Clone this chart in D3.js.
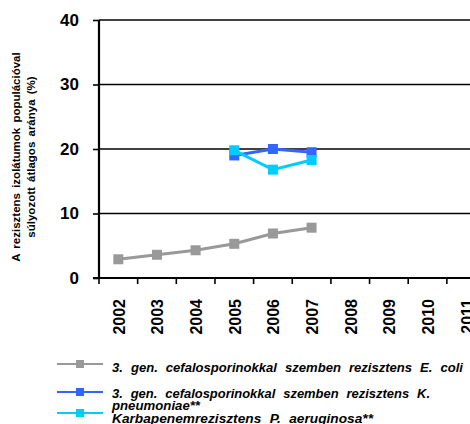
<!DOCTYPE html>
<html>
<head>
<meta charset="utf-8">
<script src="https://cdn.jsdelivr.net/npm/d3@7"></script>
<style>
  html, body { margin: 0; padding: 0; background: #fff; overflow: hidden; }
  svg { display: block; font-family: "Liberation Sans", Arial, sans-serif; }
</style>
</head>
<body>
<svg id="chart" width="470" height="424"></svg>
<script>
// Years on the category axis
const years = ["2002", "2003", "2004", "2005", "2006", "2007", "2008", "2009", "2010", "2011"];
const yTicks = [0, 10, 20, 30, 40];

// Population-weighted mean proportion of resistant isolates (%)
const ecoli = [2.9, 3.6, 4.3, 5.3, 6.9, 7.8, null, null, null, null];
const kpneu = [null, null, null, 19.0, 20.0, 19.5, null, null, null, null];
const paeru = [null, null, null, 19.8, 16.8, 18.3, null, null, null, null];

const seriesNames = [
  ["3. gen. cefalosporinokkal szemben rezisztens E. coli"],
  ["3. gen. cefalosporinokkal szemben rezisztens K.", "pneumoniae**"],
  ["Karbapenemrezisztens P. aeruginosa**"]
];
const seriesColors = ["#999999", "#3366ff", "#00ccff"];
const seriesValues = [ecoli, kpneu, paeru];

const svg = d3.select("#chart");
const plotLeft = 99, plotTop = 20, plotBottom = 278, band = 38.65;

const x = d3.scaleBand().domain(years).range([plotLeft, plotLeft + band * years.length]);
const y = d3.scaleLinear().domain([0, 40]).range([plotBottom, plotTop]);

// Horizontal gridlines
svg.append("g").selectAll("line")
  .data(yTicks.filter(d => d > 0))
  .join("line")
  .attr("x1", plotLeft).attr("x2", 470)
  .attr("y1", d => y(d)).attr("y2", d => y(d))
  .attr("stroke", "#000").attr("stroke-width", 1.6);

// Y axis
const yAxis = svg.append("g")
  .attr("transform", `translate(${plotLeft},0)`)
  .call(d3.axisLeft(y).tickValues(yTicks).tickSize(6).tickPadding(14).tickFormat(d3.format("d")));
yAxis.select(".domain").attr("stroke", "#000").attr("stroke-width", 2.2).attr("d", `M0,${plotTop}V${plotBottom}`);
yAxis.selectAll(".tick line").attr("stroke", "#000").attr("stroke-width", 1.6);
yAxis.selectAll(".tick text")
  .attr("font-size", 17).attr("font-weight", "bold").attr("fill", "#000")
  .attr("font-family", "'Liberation Sans', Arial, sans-serif");

// X axis with ticks at category boundaries
const xAxis = svg.append("g").attr("transform", `translate(0,${plotBottom})`);
xAxis.append("line")
  .attr("x1", plotLeft - 6).attr("x2", 470).attr("y1", 0).attr("y2", 0)
  .attr("stroke", "#000").attr("stroke-width", 2.2);
xAxis.selectAll("line.tk")
  .data(years)
  .join("line").attr("class", "tk")
  .attr("x1", d => x(d)).attr("x2", d => x(d))
  .attr("y1", 0).attr("y2", 6)
  .attr("stroke", "#000").attr("stroke-width", 1.6);
xAxis.selectAll("text")
  .data(years)
  .join("text")
  .attr("transform", d => `translate(${x(d) + x.bandwidth() / 2 + 6.5},${21}) rotate(-90)`)
  .attr("text-anchor", "end")
  .attr("font-size", 16).attr("font-weight", "bold").attr("fill", "#000")
  .text(d => d);

// Y axis title
const yTitle = svg.append("text")
  .attr("transform", "translate(0,157) rotate(-90)")
  .attr("text-anchor", "middle")
  .attr("font-size", 11.5).attr("font-weight", "bold").attr("fill", "#000")
  .attr("word-spacing", 2);
yTitle.append("tspan").attr("x", 0).attr("y", 20).text("A rezisztens izolátumok populációval");
yTitle.append("tspan").attr("x", 0).attr("y", 35).text("súlyozott átlagos aránya (%)");

// Series lines and markers
const line = d3.line()
  .defined(d => d.v !== null)
  .x(d => x(d.year) + x.bandwidth() / 2)
  .y(d => y(d.v));

seriesValues.forEach((vals, i) => {
  const pts = years.map((yr, j) => ({ year: yr, v: vals[j] }));
  const g = svg.append("g");
  g.append("path")
    .datum(pts)
    .attr("d", line)
    .attr("fill", "none")
    .attr("stroke", seriesColors[i])
    .attr("stroke-width", 3);
  g.selectAll("rect")
    .data(pts.filter(d => d.v !== null))
    .join("rect")
    .attr("x", d => x(d.year) + x.bandwidth() / 2 - 5)
    .attr("y", d => y(d.v) - 5)
    .attr("width", 10).attr("height", 10)
    .attr("fill", seriesColors[i]);
});

// Legend: symbol row, text baselines and set widths of each entry's lines
const legendRows = [364, 392, 413];
const legendBaselines = [[372], [398, 410], [423]];
const legendWidths = [[351], [318, 88], [261]];
const legend = svg.append("g");
seriesNames.forEach((lines, i) => {
  legend.append("line").attr("x1", 57).attr("x2", 103)
    .attr("y1", legendRows[i]).attr("y2", legendRows[i])
    .attr("stroke", seriesColors[i]).attr("stroke-width", 2);
  legend.append("rect").attr("x", 76).attr("y", legendRows[i] - 4).attr("width", 8).attr("height", 8)
    .attr("fill", seriesColors[i]);
  lines.forEach((s, k) => {
    legend.append("text")
      .attr("x", 112).attr("y", legendBaselines[i][k])
      .attr("font-size", 12).attr("font-weight", "bold").attr("font-style", "italic")
      .attr("word-spacing", 4)
      .attr("textLength", legendWidths[i][k])
      .attr("lengthAdjust", "spacingAndGlyphs")
      .attr("fill", "#000")
      .text(s);
  });
});
</script>
</body>
</html>
